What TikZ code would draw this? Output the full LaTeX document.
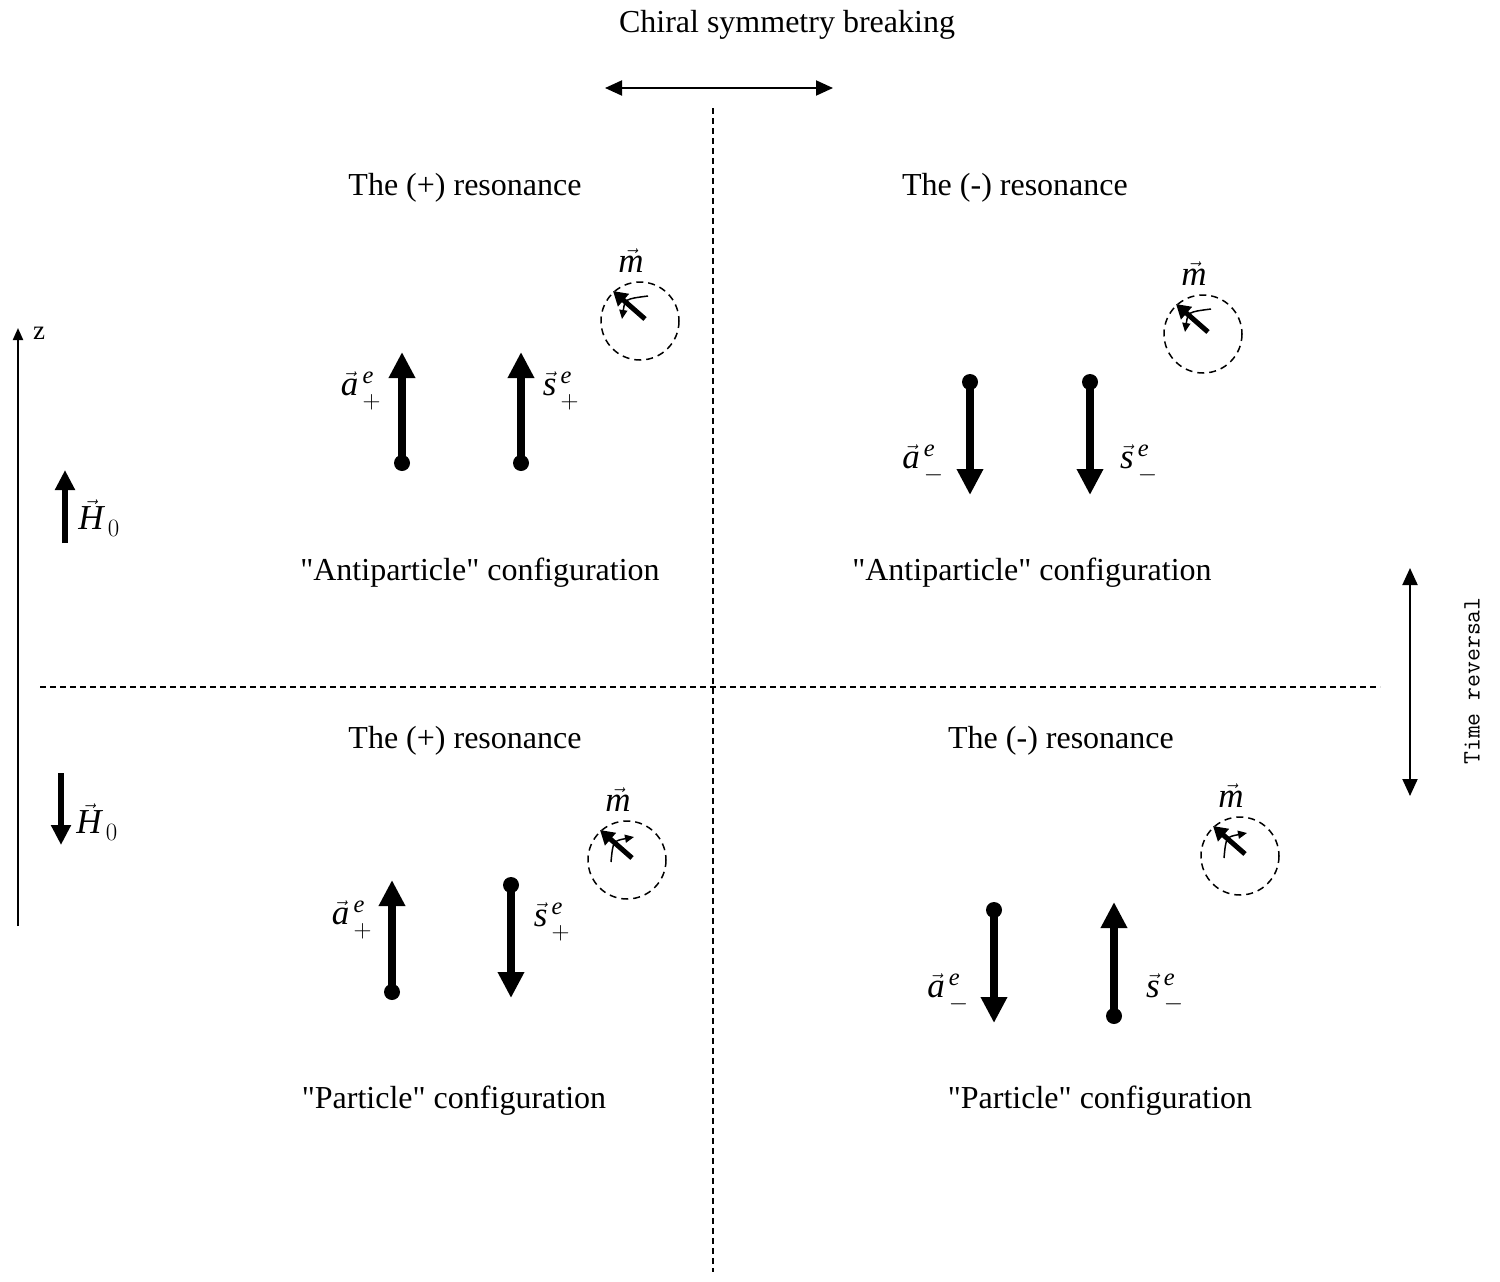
\documentclass[tikz,border=0pt]{standalone}
\usepackage{fontspec}
\setmainfont{Liberation Serif}
\newfontfamily\bodyfont{Liberation Serif}
\usetikzlibrary{arrows.meta}

\begin{document}
\begin{tikzpicture}[x=1pt, y=-1pt,
  every node/.style={font=\bodyfont\fontsize{32}{38}\selectfont, inner sep=0pt},
  lab/.style={font=\fontsize{35}{40}\selectfont},
  thinarrow/.style={line width=2pt, {Triangle[length=17pt,width=15pt]}-{Triangle[length=17pt,width=15pt]}},
  divider/.style={line width=1.5pt, dash pattern=on 6pt off 4pt},
  spin/.style={line width=8pt, -{Triangle[length=26pt,width=25pt]}},
  field/.style={line width=6pt, -{Triangle[length=20pt,width=19pt]}},
  circ/.style={line width=1.5pt, dash pattern=on 7pt off 5pt},
  moment/.style={line width=5pt, -{Triangle[length=14pt,width=16pt]}},
  precess/.style={line width=1.5pt, -{Triangle[length=9pt,width=8pt]}}]

  \useasboundingbox (0,0) rectangle (1500,1282);

  % vector with e on top and the sign further down
  \newcommand\vlab[2]{$\vec{\mathit{#1}}^{\,\raise3pt\hbox{$\scriptstyle\mathit{e}$}}_{\,\lower7pt\hbox{$\scriptstyle#2$}}$}

  % magnetisation in a dashed circle: #1 name, #2 centre, #3 #4 #5 curve (relative)
  \newcommand\Mcircle[5]{
    \coordinate (#1) at #2;
    \draw[circ] (#1) circle (39);
    \draw[moment] ([shift={(5,-2)}]#1) -- ([shift={(-27,-30)}]#1);
    \draw[precess] ([shift={#3}]#1) .. controls ([shift={#4}]#1) .. ([shift={#5}]#1);
    \node[lab] (#1-m) at ([shift={(-9,-60)}]#1) {$\vec{\mathit{m}}$};
  }

  \node (title) at (787,25) {Chiral symmetry breaking};
  \coordinate (cl) at (605,88);
  \coordinate (cr) at (833,88);
  \draw[thinarrow] (cl) -- (cr);

  % dividers
  \coordinate (vtop) at (713,108);
  \coordinate (vbot) at (713,1272);
  \coordinate (hl) at (40,687);
  \coordinate (hr) at (1380,687);
  \draw[divider] (vtop) -- (vbot);
  \draw[divider] (hl) -- (hr);

  % z axis and field
  \coordinate (zb) at (18,926);
  \coordinate (zt) at (18,328);
  \draw[line width=2pt, -{Triangle[length=12pt,width=10pt]}] (zb) -- (zt);
  \node[font=\bodyfont\fontsize{27}{30}\selectfont] (zlab) at (39,333) {z};

  \coordinate (h1) at (65,543);
  \coordinate (h1t) at (65,470);
  \draw[field] (h1) -- (h1t);
  \node[lab] (h1lab) at (99,518) {$\vec{\mathit{H}}_{\,0}$};
  \coordinate (h2) at (61,773);
  \coordinate (h2t) at (61,845);
  \draw[field] (h2) -- (h2t);
  \node[lab] (h2lab) at (97,822) {$\vec{\mathit{H}}_{\,0}$};

  % time reversal
  \coordinate (tt) at (1410,568);
  \coordinate (tb) at (1410,796);
  \draw[thinarrow] (tt) -- (tb);
  \node[rotate=90, font=\ttfamily\fontsize{25}{28}\selectfont] (trev) at (1472,681) {Time reversal};

  %% top left
  \node (res1) at (465,188) {The (+) resonance};
  \coordinate (a1) at (402,463);
  \coordinate (a1t) at (402,352);
  \coordinate (s1) at (521,463);
  \coordinate (s1t) at (521,352);
  \fill (a1) circle (8); \draw[spin] (a1) -- (a1t);
  \fill (s1) circle (8); \draw[spin] (s1) -- (s1t);
  \node[lab] (a1lab) at (361,391) {\vlab{a}{+}};
  \node[lab] (s1lab) at (561,391) {\vlab{s}{+}};
  \Mcircle{m1}{(640,321)}{(8,-25)}{(-15,-22)}{(-18,-2)}
  \node (conf1) at (480,573) {"Antiparticle" configuration};

  %% top right
  \node (res2) at (1015,188) {The (-) resonance};
  \coordinate (a2) at (970,382);
  \coordinate (a2t) at (970,495);
  \coordinate (s2) at (1090,382);
  \coordinate (s2t) at (1090,495);
  \fill (a2) circle (8); \draw[spin] (a2) -- (a2t);
  \fill (s2) circle (8); \draw[spin] (s2) -- (s2t);
  \node[lab] (a2lab) at (923,464) {\vlab{a}{-}};
  \node[lab] (s2lab) at (1139,464) {\vlab{s}{-}};
  \Mcircle{m2}{(1203,334)}{(8,-25)}{(-15,-22)}{(-18,-2)}
  \node (conf2) at (1032,573) {"Antiparticle" configuration};

  %% bottom left
  \node (res3) at (465,741) {The (+) resonance};
  \coordinate (a3) at (392,992);
  \coordinate (a3t) at (392,880);
  \coordinate (s3) at (511,885);
  \coordinate (s3t) at (511,998);
  \fill (a3) circle (8); \draw[spin] (a3) -- (a3t);
  \fill (s3) circle (8); \draw[spin] (s3) -- (s3t);
  \node[lab] (a3lab) at (352,920) {\vlab{a}{+}};
  \node[lab] (s3lab) at (552,922) {\vlab{s}{+}};
  \Mcircle{m3}{(627,860)}{(-16,2)}{(-14,-19)}{(7,-23)}
  \node (conf3) at (454,1101) {"Particle" configuration};

  %% bottom right
  \node (res4) at (1061,741) {The (-) resonance};
  \coordinate (a4) at (994,910);
  \coordinate (a4t) at (994,1023);
  \coordinate (s4) at (1114,1016);
  \coordinate (s4t) at (1114,902);
  \fill (a4) circle (8); \draw[spin] (a4) -- (a4t);
  \fill (s4) circle (8); \draw[spin] (s4) -- (s4t);
  \node[lab] (a4lab) at (948,993) {\vlab{a}{-}};
  \node[lab] (s4lab) at (1165,993) {\vlab{s}{-}};
  \Mcircle{m4}{(1240,856)}{(-16,2)}{(-14,-19)}{(7,-23)}
  \node (conf4) at (1100,1101) {"Particle" configuration};
\end{tikzpicture}
\end{document}
